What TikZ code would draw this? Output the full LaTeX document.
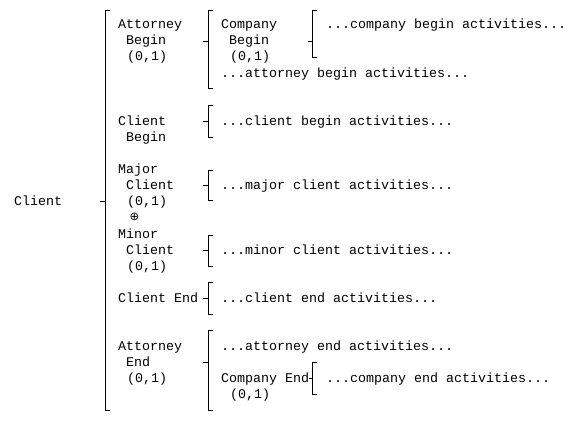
\documentclass[tikz,border=0pt]{standalone}
\usepackage{fontspec}
\setmonofont{Liberation Mono}
\newfontfamily\symfont{DejaVu Sans}
\begin{document}
\begin{tikzpicture}[x=1pt,y=-1pt,
  txt/.style={anchor=base west,inner sep=0pt,font=\ttfamily\fontsize{13.33}{16}\selectfont},
  brk/.style={line width=1pt,black},
]
\useasboundingbox (0,0) rectangle (587,423);
% brackets: x, top, bottom, tick y, tick start x
\newcommand{\brkt}[5]{\draw[brk] (#1+5,#2) -- (#1,#2) -- (#1,#3) -- (#1+5,#3); \draw[brk] (#5,#4) -- (#1,#4);}
\brkt{105}{10}{410}{201}{100}
\brkt{208}{10}{88}{41}{203}
\brkt{312}{10}{57}{41}{308}
\brkt{208}{105}{137}{121}{203}
\brkt{208}{170}{200}{185}{203}
\brkt{208}{235}{266}{250}{203}
\brkt{208}{282}{314}{298}{203}
\brkt{208}{330}{410}{362}{203}
\brkt{312}{362}{394}{378}{309}
% texts
\node[txt] (root) at (14,205) {Client};
\node[txt] (ab1) at (118,28) {Attorney};
\node[txt] (ab2) at (126,44) {Begin};
\node[txt] (ab3) at (127,60) {(0,1)};
\node[txt] (cb1) at (221,28) {Company};
\node[txt] (cb2) at (229,44) {Begin};
\node[txt] (cb3) at (230,60) {(0,1)};
\node[txt] (aba) at (221,77) {...attorney begin activities...};
\node[txt] (cba) at (326,28) {...company begin activities...};
\node[txt] (clb1) at (118,125) {Client};
\node[txt] (clb2) at (126,141) {Begin};
\node[txt] (clba) at (221,125) {...client begin activities...};
\node[txt] (mj1) at (118,173) {Major};
\node[txt] (mj2) at (126,189) {Client};
\node[txt] (mj3) at (127,205) {(0,1)};
\node[inner sep=0pt,font=\symfont\fontsize{11.5}{12}\selectfont] (xor) at (134.5,217) {⊕};
\node[txt] (mn1) at (118,238) {Minor};
\node[txt] (mn2) at (126,254) {Client};
\node[txt] (mn3) at (127,270) {(0,1)};
\node[txt] (mja) at (221,189) {...major client activities...};
\node[txt] (mna) at (221,254) {...minor client activities...};
\node[txt] (ce) at (118,302) {Client End};
\node[txt] (cea) at (221,302) {...client end activities...};
\node[txt] (ae1) at (118,350) {Attorney};
\node[txt] (ae2) at (126,366) {End};
\node[txt] (ae3) at (127,382) {(0,1)};
\node[txt] (aea) at (221,350) {...attorney end activities...};
\node[txt] (coe1) at (221,382) {Company End};
\node[txt] (coe2) at (230,398) {(0,1)};
\node[txt] (coea) at (326,382) {...company end activities...};
\end{tikzpicture}
\end{document}
